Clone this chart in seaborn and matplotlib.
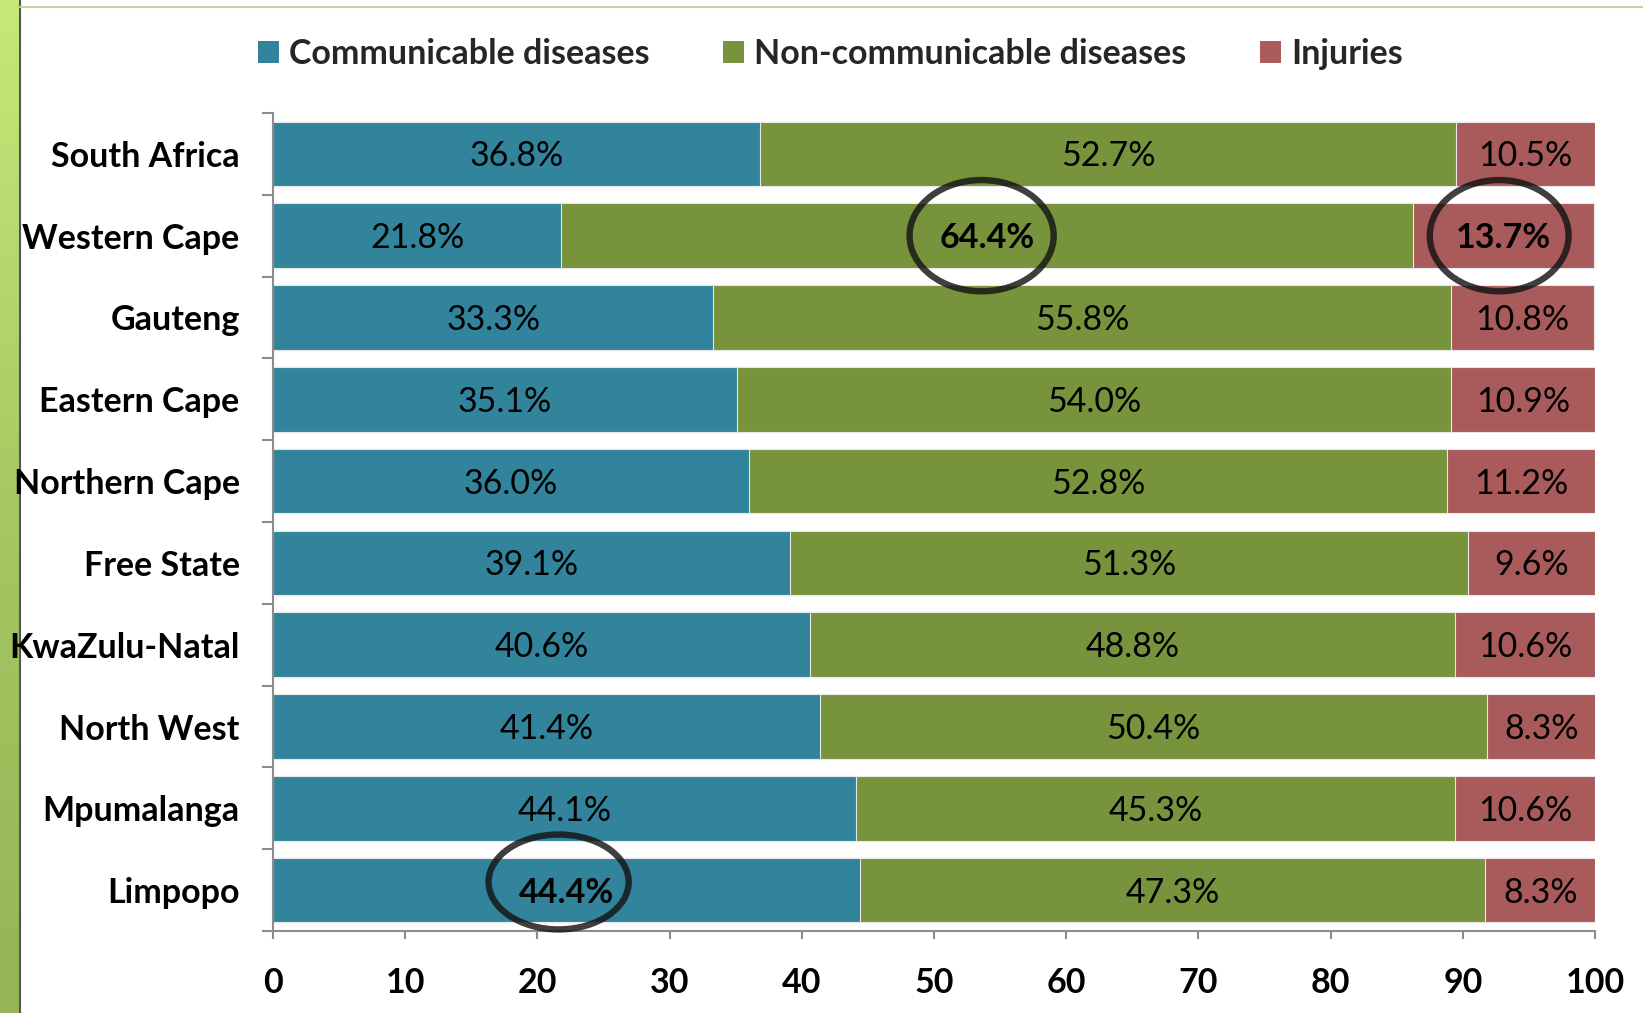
import numpy as np
import pandas as pd
import matplotlib
matplotlib.use("Agg")
import matplotlib.pyplot as plt
from matplotlib.patches import Ellipse, Patch
from matplotlib.lines import Line2D
import seaborn as sns

# Cause-of-death shares by province (%)
provinces = ["South Africa", "Western Cape", "Gauteng", "Eastern Cape", "Northern Cape",
             "Free State", "KwaZulu-Natal", "North West", "Mpumalanga", "Limpopo"]
communicable = [36.8, 21.8, 33.3, 35.1, 36.0, 39.1, 40.6, 41.4, 44.1, 44.4]
non_communicable = [52.7, 64.4, 55.8, 54.0, 52.8, 51.3, 48.8, 50.4, 45.3, 47.3]
injuries = [10.5, 13.7, 10.8, 10.9, 11.2, 9.6, 10.6, 8.3, 10.6, 8.3]
series_names = ["Communicable diseases", "Non-communicable diseases", "Injuries"]
x_ticks = [0, 10, 20, 30, 40, 50, 60, 70, 80, 90, 100]

# Highlighted labels: (province, series index)
highlights = [("Western Cape", 1), ("Western Cape", 2), ("Limpopo", 0)]

colors = ["#31849B", "#77933C", "#A95B5B"]

sns.set_theme(style="white")
plt.rcParams["font.family"] = ["Lato", "DejaVu Sans"]

df = pd.DataFrame({
    "province": provinces,
    "comm": communicable,
    "ncd": non_communicable,
    "inj": injuries,
})
df["cum1"] = df["comm"]
df["cum2"] = df["comm"] + df["ncd"]
df["cum3"] = df["comm"] + df["ncd"] + df["inj"]

fig = plt.figure(figsize=(16.43, 10.13), dpi=100)

# Slide decoration (drawn underneath everything): green stripe on the left and thin rule at the top
grad = np.linspace(0, 1, 256).reshape(-1, 1)
stripe_ax = fig.add_axes([0, 0, 19 / 1643, 1])
stripe_ax.imshow(grad, aspect="auto",
                 cmap=matplotlib.colors.LinearSegmentedColormap.from_list(
                     "stripe", ["#C6E97A", "#A6C862", "#93B556"]),
                 extent=[0, 1, 0, 1])
stripe_ax.set_axis_off()
stripe_ax.set_zorder(-2)
fig.add_artist(Line2D([19.5 / 1643, 19.5 / 1643], [0, 1], color="#555555", linewidth=1.5,
                      transform=fig.transFigure, zorder=-1))
fig.add_artist(Line2D([20 / 1643, 1], [1 - 7 / 1013, 1 - 7 / 1013], color="#C3D69B",
                      linewidth=1.5, transform=fig.transFigure, zorder=-1))

ax = fig.add_axes([0.1662, 0.0809, 0.8046, 0.8076])
ax.set_zorder(1)

bar_w = 0.79
# Stacked bars: draw cumulative totals back to front
for col, c in zip(["cum3", "cum2", "cum1"], colors[::-1]):
    sns.barplot(data=df, x=col, y="province", order=provinces, color=c,
                width=bar_w, orient="h", ax=ax, saturation=1,
                edgecolor="#e8e8e8", linewidth=0.8)

FS = 24.5

# Value labels centred in each segment
seg_vals = [df["comm"].values, df["ncd"].values, df["inj"].values]
seg_starts = [np.zeros(len(df)), df["cum1"].values, df["cum2"].values]
hl_set = {(provinces.index(p), s) for p, s in highlights}
for s in range(3):
    for i in range(len(df)):
        cx = seg_starts[s][i] + seg_vals[s][i] / 2
        bold = (i, s) in hl_set
        ax.text(cx, i + 0.03, f"{seg_vals[s][i]:.1f}%", ha="center", va="center",
                fontsize=FS, fontweight="bold" if bold else "normal", color="black")

# Ellipses around the highlighted values: (width, height, dx, dy) in data units
ell_specs = {("Western Cape", 1): (10.9, 1.36, -0.4, 0.0),
             ("Western Cape", 2): (10.5, 1.36, -0.3, 0.0),
             ("Limpopo", 0): (10.6, 1.16, -0.6, -0.1)}
for (p, s), (w, h, dx, dy) in ell_specs.items():
    i = provinces.index(p)
    cx = seg_starts[s][i] + seg_vals[s][i] / 2 + dx
    ax.add_patch(Ellipse((cx, i + dy), w, h, fill=False, edgecolor="#141414",
                         linewidth=4.6, alpha=0.82, zorder=5, clip_on=False))

ax.set_xlim(0, 100)
ax.set_ylim(len(provinces) - 0.5, -0.5)
ax.set_xlabel("")
ax.set_ylabel("")
ax.set_xticks(x_ticks)
ax.set_xticklabels([str(t) for t in x_ticks], fontsize=FS, fontweight="bold")
ax.set_yticks(range(len(provinces)))
ax.set_yticklabels(provinces, fontsize=FS, fontweight="bold")
ax.set_yticks(np.arange(-0.5, len(provinces), 1.0), minor=True)
ax.tick_params(axis="y", which="major", length=0, pad=24, colors="black")
ax.tick_params(axis="y", which="minor", length=8, width=1.5, color="#8c8c8c", left=True)
ax.tick_params(axis="x", which="major", length=6, width=1.5, color="#8c8c8c",
               bottom=True, pad=20, labelcolor="black")
for side in ["top", "right"]:
    ax.spines[side].set_visible(False)
for side in ["left", "bottom"]:
    ax.spines[side].set_color("#8c8c8c")
    ax.spines[side].set_linewidth(1.5)

# Legend across the top
handles = [Patch(facecolor=c, edgecolor="none") for c in colors]
fig.legend(handles, series_names, loc="center left", bbox_to_anchor=(0.157, 0.947),
           ncol=3, frameon=False, prop={"weight": "bold", "size": FS},
           handlelength=0.62, handleheight=0.62, handletextpad=0.3, columnspacing=2.15,
           borderaxespad=0, borderpad=0)

fig.savefig("out.png", dpi=100, facecolor="white")
